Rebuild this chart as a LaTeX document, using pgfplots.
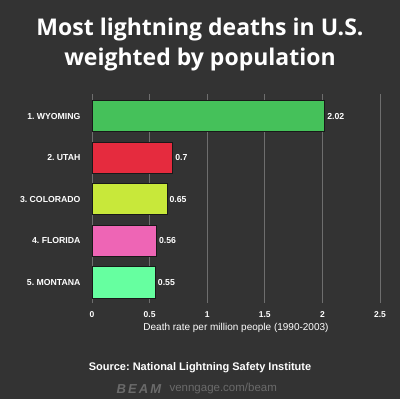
\documentclass[border=0pt]{standalone}
\usepackage{fontspec}
\setmainfont{Open Sans}
\newfontfamily\labfont{Liberation Sans}
\usepackage{pgfplots}
\pgfplotsset{compat=1.18}
\frenchspacing
\definecolor{bg}{HTML}{333333}
\definecolor{gridc}{HTML}{6E6E6E}
\definecolor{cwy}{HTML}{45C15A}
\definecolor{cut}{HTML}{E52B3E}
\definecolor{cco}{HTML}{C8E83A}
\definecolor{cfl}{HTML}{EE65B5}
\definecolor{cmt}{HTML}{66FFA0}
\definecolor{logo}{HTML}{6A6A6A}
\begin{document}
\frenchspacing
\begin{tikzpicture}
\fill[bg] (0,0) rectangle (400pt,399pt);
\useasboundingbox (0,0) rectangle (400pt,399pt);
\node[text=white, font=\bfseries\fontsize{23}{26}\selectfont] at (200pt,369pt) {Most lightning deaths in U.S.};
\node[text=white, font=\bfseries\fontsize{23}{26}\selectfont] at (200pt,339pt) {weighted by population};
\begin{axis}[
  at={(92pt,96pt)}, anchor=south west,
  scale only axis, width=288pt, height=209pt,
  xmin=0, xmax=2.5, ymin=-0.53, ymax=4.5,
  y dir=reverse,
  xtick={0,0.5,1,1.5,2,2.5},
  ytick={0,1,2,3,4},
  yticklabels={1. WYOMING,2. UTAH,3. COLORADO,4. FLORIDA,5. MONTANA},
  xmajorgrids, grid style={gridc, line width=0.9pt},
  axis line style={draw=none},
  major tick length=0pt,
  tick style={draw=none},
  /pgf/number format/assume math mode=true,
  ticklabel style={text=white, font=\labfont\bfseries\fontsize{8.5}{10}\selectfont},
  yticklabel style={xshift=-8pt, font=\labfont\bfseries\frenchspacing\fontsize{8.7}{10}\selectfont},
  xticklabel style={yshift=-5pt},
  xlabel={Death rate per million people (1990-2003)},
  xlabel style={text=white, font=\labfont\fontsize{10}{12}\selectfont, yshift=1pt},
  xbar, bar width=0.75, bar shift=0pt,
  nodes near coords,
  every node near coord/.append style={text=white, font=\labfont\bfseries\fontsize{8.7}{10}\selectfont, anchor=west, xshift=-1pt},
  clip=false,
]
\addplot[fill=cwy, draw=black!50!bg, line width=0.6pt] coordinates {(2.02,0)};
\addplot[fill=cut, draw=black!50!bg, line width=0.6pt] coordinates {(0.7,1)};
\addplot[fill=cco, draw=black!50!bg, line width=0.6pt] coordinates {(0.65,2)};
\addplot[fill=cfl, draw=black!50!bg, line width=0.6pt] coordinates {(0.56,3)};
\addplot[fill=cmt, draw=black!50!bg, line width=0.6pt] coordinates {(0.55,4)};
\end{axis}
\node[text=white, font=\labfont\bfseries\frenchspacing\fontsize{11}{13}\selectfont] at (200pt,31pt) {Source: National Lightning Safety Institute};
\node[anchor=west, text=logo, font=\labfont\bfseries\itshape\fontsize{13}{15}\selectfont] at (113pt,10pt) {B\,E\,A\,M};
\node[anchor=west, text=logo, font=\labfont\fontsize{11.5}{13}\selectfont] at (166pt,10pt) {venngage.com/beam};
\end{tikzpicture}
\end{document}
